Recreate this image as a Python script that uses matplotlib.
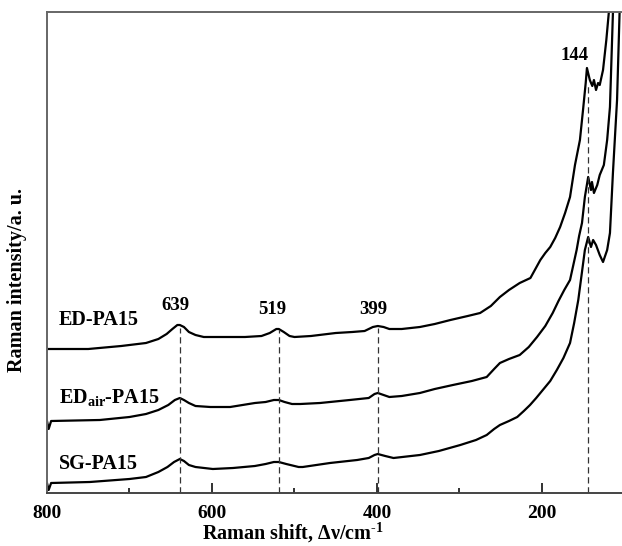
import numpy as np
import matplotlib
matplotlib.use('Agg')
import matplotlib.pyplot as plt

plt.rcParams['font.family'] = 'Liberation Serif'
plt.rcParams['font.weight'] = 'bold'
plt.rcParams['mathtext.fontset'] = 'custom'
plt.rcParams['mathtext.rm'] = 'Liberation Serif:bold'
plt.rcParams['mathtext.it'] = 'Liberation Serif:italic:bold'
plt.rcParams['mathtext.bf'] = 'Liberation Serif:bold'

# Raman shift (cm-1) and intensity (a.u., already offset per sample)
shift_ed = [800, 750, 710, 680, 665, 655, 648, 642, 639, 634, 628, 620, 610, 590, 560,
	540, 530, 522, 519, 513, 506, 500, 480, 450, 430, 415, 405, 399, 392, 385,
	370, 348, 330, 311, 290, 275, 262, 251, 240, 227, 214, 208, 202, 196, 190,
	184, 178, 172, 166, 160, 154, 150, 147, 145.5, 142, 139, 137, 134.5, 132,
	130, 126, 122, 117.6, 115]
int_ed = [144, 144, 147, 150, 154, 159, 164, 168, 168, 166, 161, 158, 156, 156, 156,
	157, 160, 164, 164, 161, 157, 156, 157, 160, 161, 162, 166, 167, 166, 164,
	164, 166, 169, 173, 177, 180, 187, 196, 203, 210, 215, 224, 233, 240, 246,
	255, 266, 280, 296, 328, 353, 385, 410, 425, 413, 407, 413, 403, 410,
	408, 423, 453, 493, 520]

shift_edair = [800, 798, 795, 736, 700, 680, 665, 653, 645, 639, 634, 628, 620, 602, 578,
	548, 535, 525, 519, 512, 503, 493, 469, 433, 410, 403, 399, 392, 385, 370,
	348, 330, 308, 285, 267, 258, 251, 240, 227, 216, 206, 196, 187, 180, 173,
	166, 162, 158, 155, 151.5, 148, 146, 144, 140.6, 139.4, 137, 133, 130, 125,
	121, 117.6, 114, 112]
int_edair = [72, 64, 72, 73, 76, 79, 83, 88, 93, 95, 93, 90, 87, 86, 86,
	90, 91, 93, 93, 91, 89, 89, 90, 93, 95, 99, 100, 98, 96, 97,
	100, 104, 108, 112, 116, 124, 130, 134, 138, 146, 156, 167, 180, 192, 203,
	213, 228, 243, 257, 270, 296, 306, 316, 303, 311, 300, 308, 318, 328,
	353, 386, 480, 520]

shift_sg = [800, 798, 795, 748, 700, 680, 665, 654, 646, 639, 634, 628, 620, 599, 574.5,
	548, 535, 525, 519, 510, 495, 490, 457, 424, 410, 403, 399, 390, 380, 348,
	325, 299, 280, 267, 258, 251, 240, 230, 222, 214.5, 207, 199, 190, 182, 174,
	166, 161, 156, 152, 148, 144, 140.6, 138, 134.5, 130, 126, 121, 117.6, 114,
	109, 105.5, 103]
int_sg = [10, 3, 10, 11, 14, 16, 21, 26, 31, 34, 32, 28, 26, 24, 25,
	27, 29, 31, 31, 29, 26, 26, 30, 33, 35, 38, 39, 37, 35, 38,
	42, 48, 53, 58, 64, 68, 72, 76, 82, 88, 95, 103, 112, 123, 135,
	150, 170, 193, 218, 243, 256, 246, 253, 248, 238, 231, 243, 260, 320,
	393, 493, 530]

samples = ['ED-PA15', 'ED$_{\\rm air}$-PA15', 'SG-PA15']
sample_label_y = [173, 96, 29]

peaks = [639, 519, 399, 144]
peak_top = [165, 163, 165, 408]
peak_label_x = [644, 527, 404, 160]
peak_label_y = [187, 183, 184, 437]

fig = plt.figure(figsize=(6.22, 5.46), dpi=100)
ax = fig.add_axes([47/622, 1-493/546, 575/622, 481/546])

for s, i in [(shift_ed, int_ed), (shift_edair, int_edair), (shift_sg, int_sg)]:
	ax.plot(s, i, color='black', lw=1.6, solid_joinstyle='round')

for p, top in zip(peaks, peak_top):
	ax.plot([p, p], [0, top], color='#333333', lw=0.9, ls=(0, (5, 3)))

for p, x, y in zip(peaks, peak_label_x, peak_label_y):
	ax.text(x, y, str(p), ha='center', va='center', fontsize=13.5, fontweight='bold')

for name, y in zip(samples, sample_label_y):
	ax.text(786, y, name, ha='left', va='center', fontsize=14.5, fontweight='bold')

ax.set_xlim(800, 103)
ax.set_ylim(0, 481)
ax.set_xticks([800, 600, 400, 200])
ax.set_xticks([700, 500, 300], minor=True)
ax.set_yticks([])
ax.tick_params(axis='x', which='major', direction='in', length=7, width=1.3,
	pad=9, labelsize=14, color='#222222')
ax.tick_params(axis='x', which='minor', direction='in', length=3.5, width=1.3,
	color='#222222')
for lbl in ax.get_xticklabels():
	lbl.set_fontweight('bold')

ax.spines['right'].set_visible(False)
ax.spines['left'].set_color('#666666')
ax.spines['top'].set_color('#666666')
ax.spines['bottom'].set_color('#444444')
for sp in ['left', 'top', 'bottom']:
	ax.spines[sp].set_linewidth(1.4)

ax.set_xlabel('Raman shift, \u0394\u03bd/cm$^{\\text{-1}}$', fontsize=14.5, fontweight='bold')
ax.xaxis.set_label_coords(0.428, -0.084)
ax.xaxis.label.set_va('center')
ax.set_ylabel('Raman intensity/a. u.', fontsize=14.5, fontweight='bold')
ax.yaxis.set_label_coords(-0.052, 0.443)
ax.yaxis.label.set_va('center')

fig.savefig('out.png', dpi=100)
